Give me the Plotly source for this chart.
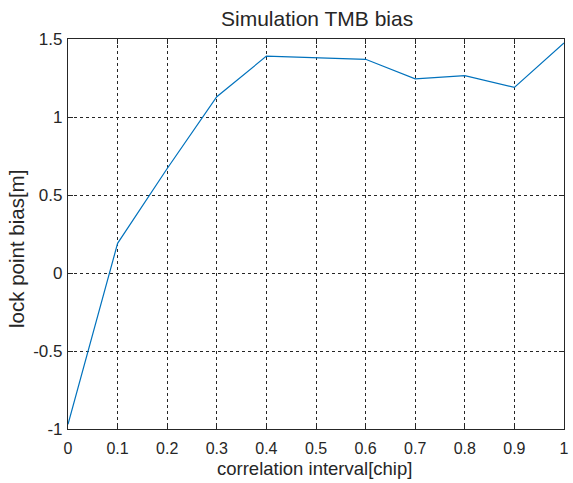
import plotly.graph_objects as go

x_vals = [0, 0.1, 0.2, 0.3, 0.4, 0.5, 0.6, 0.7, 0.8, 0.9, 1.0]
bias_vals = [-0.97, 0.19, 0.67, 1.13, 1.39, 1.38, 1.37, 1.245, 1.265, 1.19, 1.475]
x_ticks = [0, 0.1, 0.2, 0.3, 0.4, 0.5, 0.6, 0.7, 0.8, 0.9, 1]
x_tick_text = ["0", "0.1", "0.2", "0.3", "0.4", "0.5", "0.6", "0.7", "0.8", "0.9", "1"]
y_ticks = [-1, -0.5, 0, 0.5, 1, 1.5]
y_tick_text = ["-1", "-0.5", "0", "0.5", "1", "1.5"]

fig = go.Figure()
fig.add_trace(go.Scatter(x=x_vals, y=bias_vals, mode="lines",
                         line=dict(color="#0072BD", width=1.2)))

font = dict(family="Liberation Sans, Arial, sans-serif", color="#262626")
axis_common = dict(
    showline=True, linecolor="#262626", linewidth=1.2, mirror="ticks",
    ticks="inside", ticklen=5, tickcolor="#262626",
    showgrid=True, gridcolor="#262626", griddash="dot", gridwidth=1,
    zeroline=False, ticklabeloverflow="allow",
)
fig.update_layout(
    width=573, height=483,
    margin=dict(l=68, r=4, t=39, b=54),
    paper_bgcolor="white", plot_bgcolor="white",
    showlegend=False,
    xaxis=dict(range=[0, 1], tickvals=x_ticks, ticktext=x_tick_text,
               tickfont=dict(size=16, **font), ticklabelstandoff=5, **axis_common),
    yaxis=dict(range=[-1, 1.5], tickvals=y_ticks, ticktext=y_tick_text,
               tickfont=dict(size=17, **font), ticklabelstandoff=1, **axis_common),
)
fig.add_annotation(text="Simulation TMB bias", xref="paper", yref="paper",
                   x=0.502, y=1, yshift=21, xanchor="center", yanchor="middle",
                   showarrow=False, font=dict(size=21, **font))
fig.add_annotation(text="correlation interval[chip]", xref="paper", yref="paper",
                   x=0.497, y=0, yshift=-39, xanchor="center", yanchor="middle",
                   showarrow=False, font=dict(size=18.5, **font))
fig.add_annotation(text="lock point bias[m]", xref="paper", yref="paper",
                   x=0, xshift=-52, y=0.5, yshift=-15, textangle=-90,
                   xanchor="center", yanchor="middle",
                   showarrow=False, font=dict(size=20.5, **font))
fig.write_html("out.html")
